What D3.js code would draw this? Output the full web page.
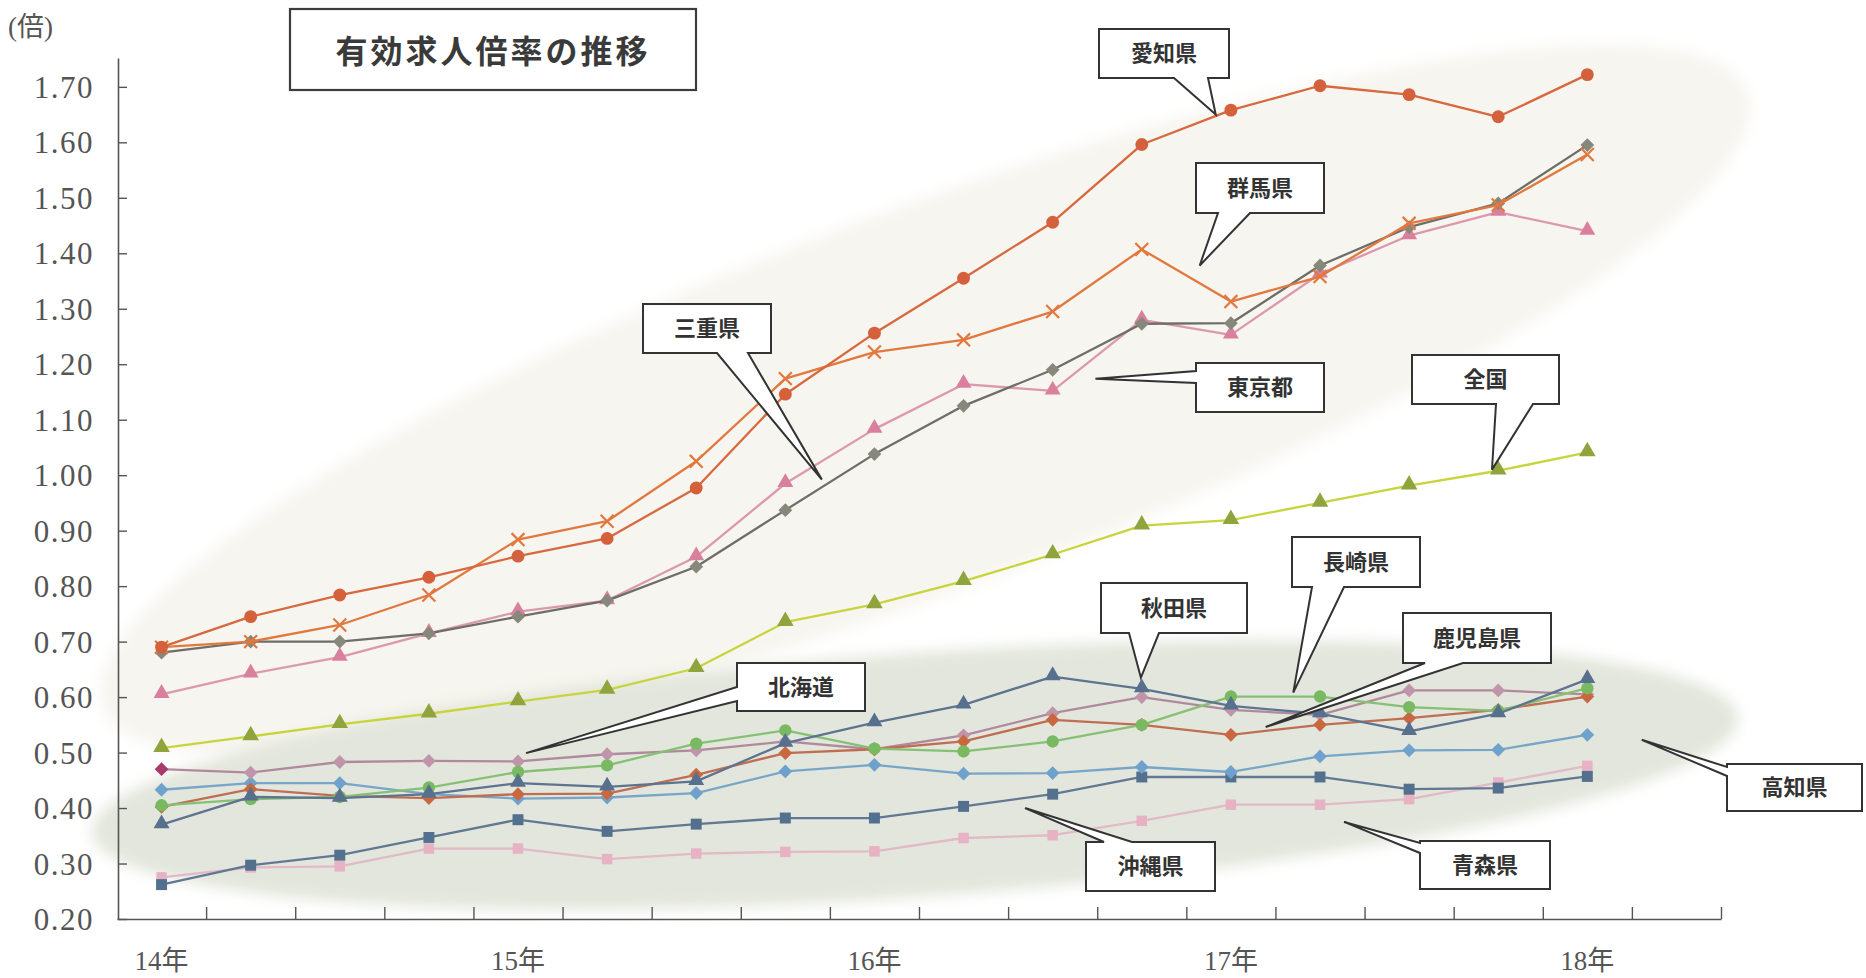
<!DOCTYPE html>
<html><head><meta charset="utf-8">
<script src="https://cdn.jsdelivr.net/npm/d3@7"></script>
<style>
html,body{margin:0;padding:0;background:#fff;}
svg{display:block;}
</style></head>
<body>
<svg id="c" width="1866" height="978"></svg>
<script>
// ---- data (quarterly, 14年 .. 18年) ----
const periods = d3.range(17);               // 17 quarterly observations
const yearLabels = ["14年","15年","16年","17年","18年"];
const yearIndex  = [0, 4, 8, 12, 16];
const yTicks = [0.2,0.3,0.4,0.5,0.6,0.7,0.8,0.9,1.0,1.1,1.2,1.3,1.4,1.5,1.6,1.7];

const aichi     = [0.69,0.745,0.784,0.816,0.854,0.886,0.977,1.146,1.256,1.355,1.456,1.596,1.658,1.702,1.686,1.646,1.722];
const gunma     = [0.69,0.70,0.73,0.784,0.884,0.917,1.025,1.174,1.222,1.244,1.295,1.407,1.313,1.358,1.454,1.487,1.578];
const mie       = [0.68,0.70,0.70,0.715,0.745,0.774,0.835,0.937,1.038,1.125,1.19,1.273,1.274,1.378,1.447,1.49,1.595];
const tokyo     = [0.605,0.642,0.672,0.715,0.754,0.774,0.853,0.985,1.083,1.164,1.152,1.28,1.253,1.363,1.432,1.474,1.44];
const zenkoku   = [0.508,0.529,0.551,0.570,0.592,0.613,0.652,0.735,0.767,0.809,0.857,0.909,0.919,0.950,0.981,1.008,1.041];
const akita     = [0.37,0.42,0.418,0.425,0.445,0.438,0.448,0.517,0.554,0.586,0.637,0.615,0.584,0.57,0.538,0.57,0.632];
const nagasaki  = [0.405,0.416,0.42,0.437,0.465,0.477,0.516,0.54,0.507,0.502,0.52,0.55,0.601,0.601,0.582,0.575,0.616];
const kagoshima = [0.402,0.434,0.422,0.418,0.425,0.426,0.46,0.499,0.506,0.52,0.559,0.55,0.532,0.55,0.562,0.577,0.601];
const hokkaido  = [0.47,0.464,0.483,0.485,0.484,0.497,0.504,0.52,0.506,0.531,0.571,0.60,0.577,0.568,0.612,0.612,0.605];
const kochi     = [0.433,0.445,0.445,0.425,0.417,0.419,0.427,0.466,0.478,0.462,0.463,0.474,0.465,0.493,0.504,0.505,0.532];
const okinawa   = [0.262,0.297,0.315,0.347,0.379,0.358,0.371,0.382,0.382,0.403,0.425,0.456,0.456,0.456,0.434,0.436,0.457];
const aomori    = [0.275,0.293,0.295,0.327,0.327,0.308,0.318,0.321,0.322,0.346,0.351,0.377,0.406,0.406,0.416,0.446,0.476];

const seriesNames = ["青森県","沖縄県","高知県","北海道","鹿児島県","長崎県","秋田県","全国","東京都","三重県","群馬県","愛知県"];
const seriesValues = [aomori,okinawa,kochi,hokkaido,kagoshima,nagasaki,akita,zenkoku,tokyo,mie,gunma,aichi];

// callout annotations: label + tip in data coords (index, value)
const calloutLabels = ["愛知県","群馬県","三重県","東京都","全国","長崎県","秋田県","鹿児島県","北海道","沖縄県","青森県","高知県"];
const calloutTipI   = [11.83,11.65,7.41,10.48,14.93,12.70,10.99,12.39,4.09,9.69,13.27,16.61];
const calloutTipV   = [1.650,1.378,0.992,1.174,1.010,0.608,0.635,0.546,0.499,0.400,0.375,0.523];

// ---- styles / layout ----
const styles = {
  "愛知県":  {line:"#d8683e", fill:"#d4603c", sym:"circle",  size:130},
  "群馬県":  {line:"#e2783e", fill:"none",    sym:"times",   size:110, stroke:"#e2783e"},
  "三重県":  {line:"#6e6e68", fill:"#85887a", sym:"diamond", size:95},
  "東京都":  {line:"#dc98ae", fill:"#d9809e", sym:"triangle",size:110},
  "全国":    {line:"#c8d43c", fill:"#90a43e", sym:"triangle",size:120},
  "秋田県":  {line:"#5e7390", fill:"#56708e", sym:"triangle",size:110},
  "長崎県":  {line:"#86c074", fill:"#78b962", sym:"circle",  size:120},
  "鹿児島県":{line:"#bf6e52", fill:"#c9683f", sym:"diamond", size:95},
  "北海道":  {line:"#b08a9c", fill:"#c094aa", sym:"diamond", size:95},
  "高知県":  {line:"#78a6c8", fill:"#6ea2cc", sym:"diamond", size:95},
  "沖縄県":  {line:"#617893", fill:"#53708f", sym:"square",  size:120},
  "青森県":  {line:"#e2b9c6", fill:"#e6b2c4", sym:"square",  size:110}
};
const calloutBoxes = {
  "愛知県":  {x:1099,y:29, w:130,h:49, side:"bottom", a1:1174,a2:1208},
  "群馬県":  {x:1196,y:163,w:128,h:50, side:"bottom", a1:1218,a2:1250},
  "三重県":  {x:643, y:304,w:128,h:49, side:"bottom", a1:717, a2:748},
  "東京都":  {x:1196,y:363,w:128,h:49, side:"left",   a1:371, a2:383},
  "全国":    {x:1412,y:355,w:147,h:49, side:"bottom", a1:1496,a2:1533},
  "長崎県":  {x:1292,y:537,w:128,h:50, side:"bottom", a1:1312,a2:1344},
  "秋田県":  {x:1101,y:583,w:146,h:50, side:"bottom", a1:1129,a2:1159},
  "鹿児島県":{x:1403,y:613,w:148,h:50, side:"bottom", a1:1425,a2:1463},
  "北海道":  {x:737, y:663,w:128,h:48, side:"left",   a1:687, a2:701},
  "沖縄県":  {x:1086,y:842,w:129,h:49, side:"top",    a1:1104,a2:1132},
  "青森県":  {x:1420,y:841,w:130,h:48, side:"left",   a1:843, a2:853},
  "高知県":  {x:1727,y:764,w:135,h:47, side:"left",   a1:767, a2:776}
};

const svg = d3.select("#c");
const x = d3.scaleLinear().domain([-0.5, 17.5]).range([117, 1721]);
const y = d3.scaleLinear().domain([0.2, 1.752]).range([919, 58]);

// background blobs
const defs = svg.append("defs");
defs.append("filter").attr("id","soft").attr("x","-10%").attr("y","-30%").attr("width","120%").attr("height","160%")
  .append("feGaussianBlur").attr("stdDeviation",7);

const bg = svg.append("g");
bg.append("ellipse").attr("cx",925).attr("cy",400).attr("rx",878).attr("ry",190)
  .attr("transform","rotate(-20.5 925 400)").attr("fill","#f6f5ef").attr("filter","url(#soft)");
bg.append("ellipse").attr("cx",915).attr("cy",775).attr("rx",825).attr("ry",122)
  .attr("transform","rotate(-4 915 775)").attr("fill","#e3e6dc").attr("filter","url(#soft)");

// title
svg.append("rect").attr("x",290).attr("y",9).attr("width",406).attr("height",81)
  .attr("fill","#fff").attr("stroke","#3c3c3c").attr("stroke-width",2.2);
svg.append("text").attr("x",493).attr("y",63).attr("text-anchor","middle")
  .attr("font-family","'Noto Sans CJK JP'").attr("font-weight",700).attr("font-size",32)
  .attr("letter-spacing",3).attr("fill","#3a3a3a").text("有効求人倍率の推移");

// unit
svg.append("text").attr("x",8).attr("y",36)
  .attr("font-family","'Liberation Serif','Noto Sans CJK JP'").attr("font-size",27)
  .attr("fill","#555").text("(倍)");

// y axis
const yAxis = svg.append("g").attr("transform",`translate(${x(-0.5)+1},0)`)
  .call(d3.axisLeft(y).tickValues(yTicks).tickSizeInner(-9).tickSizeOuter(0).tickPadding(24)
    .tickFormat(d3.format(".2f")));
yAxis.select(".domain").attr("stroke","#555").attr("stroke-width",1.6);
yAxis.selectAll(".tick line").attr("stroke","#555").attr("stroke-width",1.4);
yAxis.selectAll(".tick text").attr("font-family","'Liberation Serif'").attr("font-size",31)
  .attr("letter-spacing",1.5).attr("fill","#555").attr("dy","0.34em");

// x axis
const xAxis = svg.append("g").attr("transform",`translate(0,${y(0.2)})`)
  .call(d3.axisBottom(x).tickValues(d3.range(0.5, 17.6, 1)).tickSizeInner(-12).tickSizeOuter(0).tickFormat(""));
xAxis.select(".domain").attr("stroke","#555").attr("stroke-width",1.6);
xAxis.selectAll(".tick line").attr("stroke","#555").attr("stroke-width",1.4);
svg.append("g").selectAll("text").data(yearLabels).join("text")
  .attr("x",(d,i)=>x(yearIndex[i])).attr("y",970).attr("text-anchor","middle")
  .attr("font-family","'Liberation Serif','Noto Sans CJK JP'").attr("font-size",27).attr("fill","#555")
  .text(d=>d);

// custom rhombus symbol
const rhombus = {draw(ctx,size){const r=Math.sqrt(size/2);ctx.moveTo(0,-r);ctx.lineTo(r,0);ctx.lineTo(0,r);ctx.lineTo(-r,0);ctx.closePath();}};
const symTypes = {circle:d3.symbolCircle, triangle:d3.symbolTriangle, diamond:rhombus, square:d3.symbolSquare, times:d3.symbolTimes};

const line = d3.line().x((d,i)=>x(i)).y(d=>y(d));
const plot = svg.append("g");
seriesNames.forEach((name,k)=>{
  const st = styles[name];
  const vals = seriesValues[k];
  const g = plot.append("g");
  g.append("path").datum(vals).attr("d",line).attr("fill","none")
    .attr("stroke",st.line).attr("stroke-width",2.3).attr("stroke-linejoin","round");
  const sym = d3.symbol().type(symTypes[st.sym]).size(st.size);
  g.selectAll("path.m").data(vals).join("path").attr("class","m")
    .attr("transform",(d,i)=>{
      const dy = st.sym==="triangle" ? -1 : 0;
      return `translate(${x(i)},${y(d)+dy})`;})
    .attr("d",sym)
    .attr("fill",(d,i)=> st.sym==="times" ? "none" : (name==="北海道" && i===0 ? "#a83a6c" : st.fill))
    .attr("stroke",st.sym==="times" ? st.stroke : "none")
    .attr("stroke-width",st.sym==="times" ? 2.2 : 0);
});

// callouts
const ann = svg.append("g");
calloutLabels.forEach((lab,k)=>{
  const b = calloutBoxes[lab];
  const tx = x(calloutTipI[k]), ty = y(calloutTipV[k]);
  const p = d3.path();
  const X0=b.x, Y0=b.y, X1=b.x+b.w, Y1=b.y+b.h;
  p.moveTo(X0,Y0);
  if(b.side==="top"){p.lineTo(b.a1,Y0);p.lineTo(tx,ty);p.lineTo(b.a2,Y0);}
  p.lineTo(X1,Y0); p.lineTo(X1,Y1);
  if(b.side==="bottom"){p.lineTo(b.a2,Y1);p.lineTo(tx,ty);p.lineTo(b.a1,Y1);}
  p.lineTo(X0,Y1);
  if(b.side==="left"){p.lineTo(X0,b.a2);p.lineTo(tx,ty);p.lineTo(X0,b.a1);}
  p.closePath();
  ann.append("path").attr("d",p.toString()).attr("fill","#fff").attr("stroke","#333")
    .attr("stroke-width",2).attr("stroke-linejoin","miter");
  ann.append("text").attr("x",b.x+b.w/2).attr("y",b.y+b.h/2).attr("dy","0.36em")
    .attr("text-anchor","middle").attr("font-family","'Noto Sans CJK JP'").attr("font-weight",700)
    .attr("font-size",22).attr("fill","#333").text(lab);
});
</script>
</body></html>
